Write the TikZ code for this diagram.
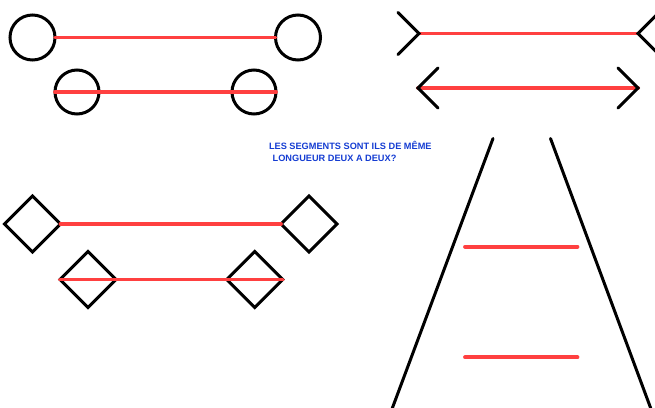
\documentclass[tikz,border=0pt]{standalone}
\usepackage{fontspec}
\setmainfont{Liberation Sans}
\usetikzlibrary{shapes.geometric}
\definecolor{segred}{RGB}{255,64,64}
\definecolor{titleblue}{RGB}{20,60,210}
\begin{document}
\begin{tikzpicture}[x=1pt,y=-1pt,line width=3pt,line cap=round,
  every node/.style={inner sep=0pt,outer sep=0pt},
  ring/.style={circle,draw,minimum size=#1},
  lozenge/.style={diamond,draw,aspect=1,minimum size=56pt},
  seg/.style={draw=segred,line width=3.8pt},
  title/.style={anchor=base west,text=titleblue,font=\bfseries\fontsize{9.2}{11}\selectfont}]
\useasboundingbox (0,0) rectangle (655,407);
% cercles
\node[ring=45pt] (C1) at (32.5,37.5) {};
\node[ring=45pt] (C2) at (298,37.5) {};
\node[ring=44pt] (C3) at (77,92) {};
\node[ring=44pt] (C4) at (254,92) {};
\draw[seg] (C1.east) -- (C2.west);
\draw[seg] (C3.west) -- (C4.east);
% fleches
\coordinate (A1) at (419,33.5);
\coordinate (A2) at (638,33.5);
\coordinate (B1) at (418,88);
\coordinate (B2) at (638,88);
\draw[seg] (A1) -- (A2);
\draw[seg] (B1) -- (B2);
\draw (A1) ++(-21,-21) -- (A1) -- ++(-21,21);
\draw (A2) ++(21,-21) -- (A2) -- ++(21,21);
\draw (B1) ++(20,-20) -- (B1) -- ++(20,20);
\draw (B2) ++(-20,-20) -- (B2) -- ++(-20,20);
% losanges
\node[lozenge] (D1) at (32.5,224) {};
\node[lozenge] (D2) at (309,224) {};
\node[lozenge] (D3) at (88,279.5) {};
\node[lozenge] (D4) at (254.7,279.5) {};
\draw[seg] (D1.east) -- (D2.west);
\draw[seg] (D3.west) -- (D4.east);
% echelle
\coordinate (L1) at (493,138.5);
\coordinate (L2) at (392,409);
\coordinate (R1) at (550.5,138.5);
\coordinate (R2) at (651,409);
\draw (L1) -- (L2);
\draw (R1) -- (R2);
\coordinate (E1) at (465,246.7);
\coordinate (E2) at (577.5,246.7);
\coordinate (E3) at (465,357.3);
\coordinate (E4) at (577.5,357.3);
\draw[seg] (E1) -- (E2);
\draw[seg] (E3) -- (E4);
% question
\node[title] (T1) at (269,149.3) {LES SEGMENTS SONT ILS DE MÊME};
\node[title] (T2) at (272.7,161) {LONGUEUR DEUX A DEUX?};
\end{tikzpicture}
\end{document}
